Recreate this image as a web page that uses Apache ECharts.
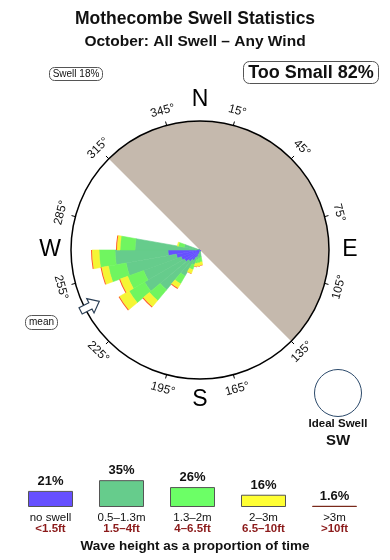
<!DOCTYPE html>
<html>
<head>
<meta charset="utf-8">
<script src="https://cdn.jsdelivr.net/npm/echarts@6/dist/echarts.min.js"></script>
<style>
  html, body { margin: 0; padding: 0; background: #fff; }
  #chart { width: 390px; height: 560px; }
</style>
</head>
<body>
<div id="chart"></div>
<script>
// ---------- DATA ----------
// rose bins (compass direction of 10° bin centres) and stacked segment lengths
const roseDirs   = [175, 185, 195, 205, 215, 225, 235, 245, 255, 265, 275, 285];
const noSwell    = [1,   2,   4,   8,   12,  15,  18,  20,  24,  32,  3,   0];
const h05to13    = [6,   6,   6,   8,   18,  37,  46,  40,  51,  53,  62,  16];
const h13to2     = [5,   5,   4,   5,   9,   14,  18,  17,  18,  16,  15,  6];
const h2to3      = [3,   3,   3,   4,   5,   8,   11,  8,   7,   7,   3,   1];
const h3plus     = [0.5, 0.5, 0.5, 0.5, 1,   1,   1,   1,   1,   1,   1,   0];
const roseMax    = 129;

// land shadow (compass start and sweep, degrees)
const shadowStart = 315;
const shadowSweep = 180;

// mean swell direction
const meanDir = 243;

// compass tick labels
const tickDegs = [15, 45, 75, 105, 135, 165, 195, 225, 255, 285, 315, 345];
const cardinals = [['N', 0], ['E', 90], ['S', 180], ['W', 270]];

// legend (wave height proportion)
const legendCats   = ['no swell', '0.5–1.3m', '1.3–2m', '2–3m', '>3m'];
const legendFeet   = ['<1.5ft', '1.5–4ft', '4–6.5ft', '6.5–10ft', '>10ft'];
const legendPct    = [21, 35, 26, 16, 1.6];

const titleText    = 'Mothecombe Swell Statistics';
const subtitleText = 'October: All Swell – Any Wind';
const swellText    = 'Swell 18%';
const tooSmallText = 'Too Small 82%';
const idealText    = 'Ideal Swell';
const idealDir     = 'SW';

// ---------- STYLE / LAYOUT ----------
const FONT = "'Liberation Sans', Arial, Helvetica, sans-serif";
const CX = 200, CY = 250, R = 129;
const colors = ['#6650ff', '#66cc8c', '#70f560', '#f5f535', '#ff5a28'];
const legendColors = ['#6650ff', '#66cc8c', '#6cff66', '#ffff33', '#7a2a1a'];

// ---------- BUILD ----------
const angleCats = [];
for (let d = 5; d < 360; d += 10) angleCats.push(String(d));
function fullArr(vals) {
  const arr = new Array(angleCats.length).fill(0);
  roseDirs.forEach((d, i) => { arr[angleCats.indexOf(String(d))] = vals[i]; });
  return arr;
}
const roseSeriesVals = [noSwell, h05to13, h13to2, h2to3, h3plus];

function pt(deg, r) {
  const a = deg * Math.PI / 180;
  return [CX + r * Math.sin(a), CY - r * Math.cos(a)];
}
function textRot(deg) {
  let r = deg % 360;
  if (r > 90 && r < 270) r -= 180;
  return -r * Math.PI / 180;
}

const graphics = [];
function addText(x, y, text, size, weight, color, extra) {
  graphics.push(Object.assign({
    type: 'text', x: x, y: y, silent: true, z: 20,
    style: { text: text, fill: color || '#111', font: (weight || 'normal') + ' ' + size + 'px ' + FONT,
             align: 'center', verticalAlign: 'middle' }
  }, extra || {}));
}
function addBox(x, y, w, h, r) {
  graphics.push({ type: 'rect', silent: true, z: 19, shape: { x: x, y: y, width: w, height: h, r: r },
    style: { fill: '#fff', stroke: '#555', lineWidth: 1 } });
}

addText(195, 19, titleText, 17.5, 'bold', '#111');
addText(195, 42, subtitleText, 15.5, 'bold', '#111');
addBox(49.5, 67.5, 53, 13, 5);
addText(76, 74, swellText, 10, 'normal', '#111');
addBox(243.5, 61.5, 135, 22, 6);
addText(311, 73, tooSmallText, 18, 'bold', '#111');
addBox(25.5, 315.5, 32, 14, 6);
addText(41.5, 322.5, 'mean', 10, 'normal', '#111');

tickDegs.forEach(d => {
  const p = pt(d, 144);
  addText(p[0], p[1], d + '°', 12, 'normal', '#111', { rotation: textRot(d) });
});
cardinals.forEach(c => {
  const p = pt(c[1], 150);
  addText(p[0], p[1], c[0], 23, 'normal', '#000');
});

// mean arrow (tip pointing to centre)
(function () {
  const tip = pt(meanDir, 113);
  const th = meanDir * Math.PI / 180;
  const alpha = Math.atan2(-Math.cos(th), -Math.sin(th));
  graphics.push({
    type: 'polygon', x: tip[0], y: tip[1], rotation: alpha, silent: true, z: 21,
    shape: { points: [[0, 0], [-10, -8], [-10, -3.5], [-21, -3.5], [-21, 3.5], [-10, 3.5], [-10, 8]] },
    style: { fill: '#fff', stroke: '#2b3f55', lineWidth: 1.2 }
  });
})();

// ideal swell
graphics.push({ type: 'circle', silent: true, z: 19, shape: { cx: 338, cy: 393, r: 23.5 },
  style: { fill: '#fff', stroke: '#2c4a6b', lineWidth: 1 } });
addText(338, 424, idealText, 11.5, 'bold', '#111');
addText(338, 441, idealDir, 15, 'bold', '#111');

addText(195, 546, 'Wave height as a proportion of time', 13.5, 'bold', '#111');

const series = [];
series.push({
  type: 'pie', center: [CX, CY], radius: [0, R], startAngle: 90 - shadowStart + 360,
  clockwise: true, silent: true, z: 1, animation: false,
  label: { show: false }, labelLine: { show: false },
  itemStyle: { borderWidth: 0 },
  emphasis: { disabled: true },
  data: [
    { value: shadowSweep, itemStyle: { color: '#c5b9ad' } },
    { value: 360 - shadowSweep, itemStyle: { color: 'rgba(0,0,0,0)' } }
  ]
});
roseSeriesVals.forEach((vals, i) => {
  series.push({
    type: 'bar', coordinateSystem: 'polar', polarIndex: 0, stack: 'rose', z: 3,
    barWidth: '100%', barGap: '-100%', barCategoryGap: '0%', silent: true,
    itemStyle: { color: colors[i], borderColor: colors[i], borderWidth: i === 4 ? 0 : 0.6 },
    data: fullArr(vals)
  });
});
series.push({
  type: 'bar', xAxisIndex: 0, yAxisIndex: 0, barWidth: 45, silent: true,
  data: legendPct.map((v, i) => ({
    value: v,
    itemStyle: { color: legendColors[i], borderColor: i === 4 ? '#7a2a1a' : '#555', borderWidth: 1 }
  })),
  label: { show: true, position: 'top', distance: 3, formatter: p => p.value + '%',
           fontFamily: FONT, fontSize: 13, fontWeight: 'bold', color: '#111' }
});

const chart = echarts.init(document.getElementById('chart'), null, { renderer: 'canvas' });
chart.setOption({
  animation: false,
  backgroundColor: '#fff',
  polar: { center: [CX, CY], radius: R },
  angleAxis: {
    type: 'category', data: angleCats, startAngle: 90, clockwise: true, boundaryGap: true, z: 10,
    axisLine: { show: true, lineStyle: { color: '#000', width: 1.5 } },
    axisTick: { show: true, alignWithLabel: true, length: 4, interval: (idx) => idx % 3 === 1,
                lineStyle: { color: '#000', width: 1 } },
    axisLabel: { show: false },
    splitLine: { show: false }, splitArea: { show: false }
  },
  radiusAxis: {
    type: 'value', min: 0, max: roseMax,
    axisLine: { show: false }, axisTick: { show: false }, axisLabel: { show: false },
    splitLine: { show: false }, splitArea: { show: false }
  },
  grid: { left: 15, right: 20, top: 461, height: 46, outerBoundsMode: 'none' },
  xAxis: {
    type: 'category', data: legendCats,
    axisLine: { show: false }, axisTick: { show: false },
    axisLabel: {
      interval: 0, margin: 5,
      formatter: (v, i) => '{m|' + v + '}\n{f|' + legendFeet[i] + '}',
      rich: {
        m: { fontFamily: FONT, fontSize: 11.5, color: '#111', lineHeight: 11 },
        f: { fontFamily: FONT, fontSize: 11.5, fontWeight: 'bold', color: '#8b1a1a', lineHeight: 11 }
      }
    }
  },
  yAxis: { type: 'value', min: 0, max: 60, show: false, splitLine: { show: false } },
  series: series,
  graphic: graphics
});
</script>
</body>
</html>
